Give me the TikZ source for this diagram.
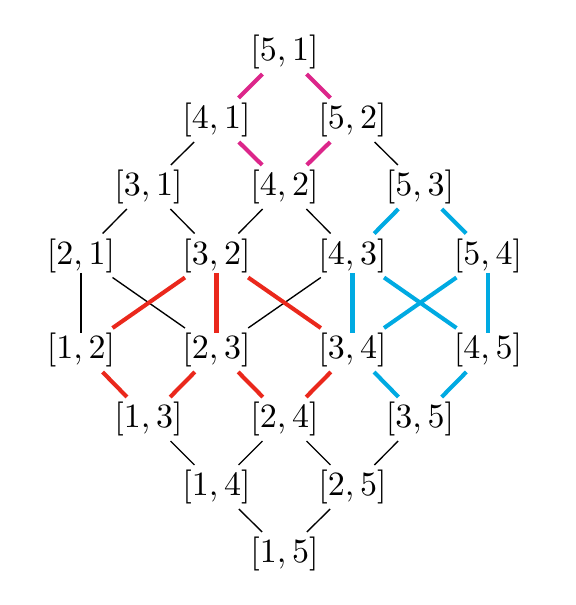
\documentclass[tikz,border=0pt]{standalone}
\definecolor{cmag}{RGB}{220,38,138}
\definecolor{cred}{RGB}{234,40,28}
\definecolor{ccya}{RGB}{0,170,226}
\begin{document}
\begin{tikzpicture}[x=0.294pt,y=-0.294pt,
  iv/.style={inner xsep=1.5pt,inner ysep=1.47pt,outer sep=0pt},
  bl/.style={draw=black,line width=0.4pt},
  mg/.style={draw=cmag,line width=1.2pt},
  rd/.style={draw=cred,line width=1.2pt},
  cy/.style={draw=ccya,line width=1.2pt},
  vt/.style={shorten <=-1.4pt,shorten >=-1.4pt}]
\useasboundingbox (0,0) rectangle (576,605);
\node[iv] (51) at (284.5,52) {$[5,1]$};
\node[iv] (41) at (216.5,120) {$[4,1]$};
\node[iv] (52) at (352.5,120) {$[5,2]$};
\node[iv] (31) at (148.5,187) {$[3,1]$};
\node[iv] (42) at (284.5,187) {$[4,2]$};
\node[iv] (53) at (420,187) {$[5,3]$};
\node[iv] (21) at (81,255.5) {$[2,1]$};
\node[iv] (32) at (216.5,255.5) {$[3,2]$};
\node[iv] (43) at (352.5,255.5) {$[4,3]$};
\node[iv] (54) at (488,255.5) {$[5,4]$};
\node[iv] (12) at (81,350) {$[1,2]$};
\node[iv] (23) at (216.5,350) {$[2,3]$};
\node[iv] (34) at (352.5,350) {$[3,4]$};
\node[iv] (45) at (488,350) {$[4,5]$};
\node[iv] (13) at (148.5,419) {$[1,3]$};
\node[iv] (24) at (284.5,419) {$[2,4]$};
\node[iv] (35) at (420,419) {$[3,5]$};
\node[iv] (14) at (216.5,487) {$[1,4]$};
\node[iv] (25) at (352.5,487) {$[2,5]$};
\node[iv] (15) at (284.5,554) {$[1,5]$};
% magenta
\draw[mg] (51) -- (41);
\draw[mg] (51) -- (52);
\draw[mg] (41) -- (42);
\draw[mg] (52) -- (42);
% black upper
\draw[bl] (41) -- (31);
\draw[bl] (52) -- (53);
\draw[bl] (31) -- (21);
\draw[bl] (31) -- (32);
\draw[bl] (42) -- (32);
\draw[bl] (42) -- (43);
\draw[bl,vt] (21) -- (12);
\draw[bl] (21) -- (23);
\draw[bl] (43) -- (23);
% cyan
\draw[cy] (53) -- (43);
\draw[cy] (53) -- (54);
\draw[cy,vt] (43) -- (34);
\draw[cy] (43) -- (45);
\draw[cy] (54) -- (34);
\draw[cy,vt] (54) -- (45);
\draw[cy] (34) -- (35);
\draw[cy] (45) -- (35);
% red
\draw[rd] (32) -- (12);
\draw[rd,vt] (32) -- (23);
\draw[rd] (32) -- (34);
\draw[rd] (12) -- (13);
\draw[rd] (23) -- (13);
\draw[rd] (23) -- (24);
\draw[rd] (34) -- (24);
% black lower
\draw[bl] (13) -- (14);
\draw[bl] (24) -- (14);
\draw[bl] (24) -- (25);
\draw[bl] (35) -- (25);
\draw[bl] (14) -- (15);
\draw[bl] (25) -- (15);
\end{tikzpicture}
\end{document}
